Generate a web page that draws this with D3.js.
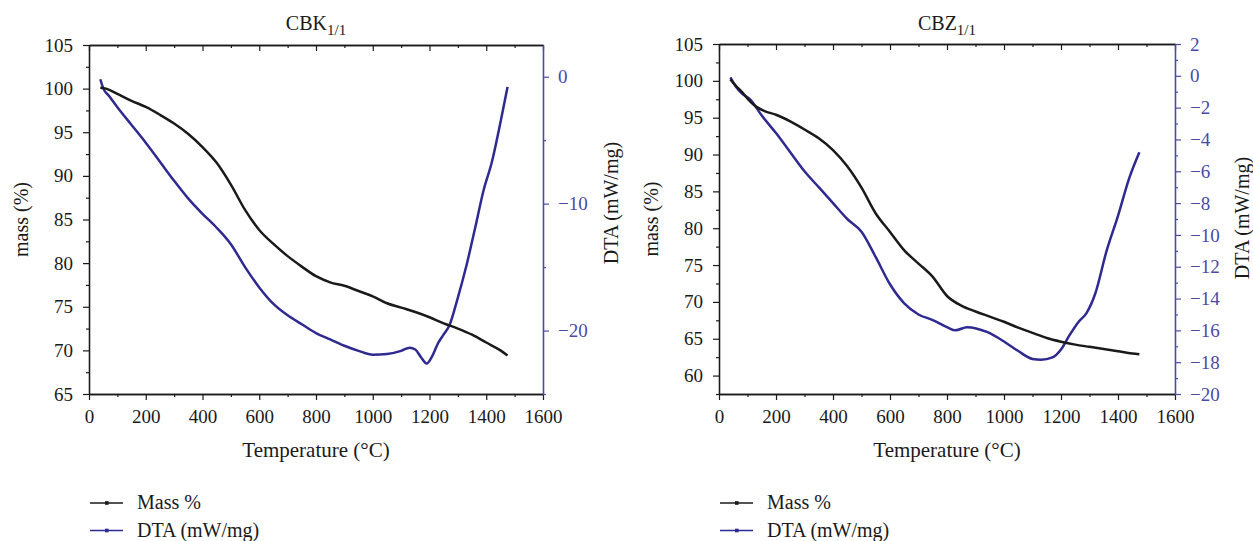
<!DOCTYPE html>
<html>
<head>
<meta charset="utf-8">
<script src="https://cdn.jsdelivr.net/npm/d3@7"></script>
<style>
body { margin: 0; background: #fff; }
text { font-family: "Liberation Serif", "DejaVu Serif", serif; }
</style>
</head>
<body>
<div id="plot"></div>
<script>
// ---- data ----
// CBK 1/1
var cbkMassT = [40, 60, 100, 150, 200, 250, 300, 350, 400, 450, 500, 550, 600, 650, 700, 750, 800, 850, 900, 950, 1000, 1050, 1100, 1150, 1200, 1250, 1300, 1350, 1400, 1450, 1475];
var cbkMass  = [100.1, 100.0, 99.4, 98.6, 97.9, 97.0, 96.0, 94.8, 93.3, 91.5, 89.0, 86.1, 83.8, 82.2, 80.8, 79.6, 78.5, 77.8, 77.4, 76.8, 76.2, 75.4, 74.9, 74.4, 73.8, 73.1, 72.5, 71.8, 70.9, 70.0, 69.4];
var cbkDtaT  = [40, 50, 70, 100, 150, 200, 250, 300, 350, 400, 450, 500, 550, 600, 650, 700, 750, 800, 850, 900, 950, 1000, 1050, 1100, 1130, 1150, 1170, 1190, 1210, 1230, 1250, 1270, 1300, 1330, 1360, 1390, 1420, 1450, 1475];
var cbkDta   = [-0.2, -0.9, -1.5, -2.4, -3.8, -5.2, -6.7, -8.2, -9.6, -10.8, -11.9, -13.2, -15.0, -16.6, -17.9, -18.8, -19.5, -20.2, -20.7, -21.2, -21.6, -21.9, -21.85, -21.6, -21.35, -21.5, -22.1, -22.6, -22.0, -21.0, -20.3, -19.6, -17.4, -14.9, -12.0, -9.0, -6.7, -3.6, -0.8];

// CBZ 1/1
var cbzMassT = [40, 60, 80, 100, 130, 160, 200, 250, 300, 350, 400, 450, 500, 550, 600, 650, 700, 750, 800, 850, 900, 950, 1000, 1050, 1100, 1150, 1200, 1250, 1300, 1350, 1400, 1450, 1475];
var cbzMass  = [100.2, 99.3, 98.5, 97.6, 96.5, 95.9, 95.4, 94.5, 93.4, 92.2, 90.6, 88.4, 85.5, 82.0, 79.5, 77.0, 75.2, 73.4, 70.8, 69.5, 68.7, 68.0, 67.3, 66.5, 65.8, 65.1, 64.6, 64.2, 63.9, 63.6, 63.3, 63.0, 62.9];
var cbzDtaT  = [40, 60, 80, 110, 150, 200, 250, 300, 350, 400, 450, 500, 550, 600, 650, 700, 750, 800, 830, 870, 940, 1000, 1050, 1100, 1130, 1170, 1200, 1230, 1260, 1290, 1320, 1360, 1400, 1440, 1475];
var cbzDta   = [-0.1, -0.7, -1.1, -1.5, -2.5, -3.6, -4.8, -6.0, -7.0, -8.0, -9.0, -9.8, -11.4, -13.1, -14.3, -15.0, -15.35, -15.8, -16.0, -15.8, -16.1, -16.7, -17.3, -17.8, -17.85, -17.7, -17.2, -16.3, -15.5, -14.9, -13.7, -11.0, -8.8, -6.4, -4.8];

// ticks
var xTicks = [0, 200, 400, 600, 800, 1000, 1200, 1400, 1600];
var xMinor = [100, 300, 500, 700, 900, 1100, 1300, 1500];
var cbkMassTicks = [65, 70, 75, 80, 85, 90, 95, 100, 105];
var cbkMassMinor = [67.5, 72.5, 77.5, 82.5, 87.5, 92.5, 97.5, 102.5];
var cbkDtaTicks = [0, -10, -20];
var cbkDtaMinor = [-5, -15, -25];
var cbzMassTicks = [60, 65, 70, 75, 80, 85, 90, 95, 100, 105];
var cbzMassMinor = [57.5, 62.5, 67.5, 72.5, 77.5, 82.5, 87.5, 92.5, 97.5, 102.5];
var cbzDtaTicks = [-20, -18, -16, -14, -12, -10, -8, -6, -4, -2, 0, 2];
var cbzDtaMinor = [-19, -17, -15, -13, -11, -9, -7, -5, -3, -1, 1];

var legendLabels = ["Mass %", "DTA (mW/mg)"];

var black = "#1a1a1a";
var blue = "#2f2a90";
var axisBlue = "#4a4aa6";
var fmt = d3.format('d');

var svg = d3.select('#plot').append('svg')
    .attr('width', 1253)
    .attr('height', 541);

function styleAxis(sel, color) {
    sel.select('.domain').attr('stroke', color).attr('stroke-width', 1.3);
    sel.selectAll('.tick line').attr('stroke', color).attr('stroke-width', 1.2);
    sel.selectAll('.tick text').attr('fill', color).style('font-size', '19px')
        .style('font-family', '"Liberation Serif", serif');
}

function drawPanel(p) {
    var x = d3.scaleLinear().domain([0, 1600]).range([p.left, p.right]);
    var yM = d3.scaleLinear().domain(p.massDomain).range([p.bottom, p.top]);
    var yD = d3.scaleLinear().domain(p.dtaDomain).range([p.bottom, p.top]);

    var g = svg.append('g');

    // bottom axis
    g.append('g').attr('transform', 'translate(0,' + p.bottom + ')')
        .call(d3.axisBottom(x).tickValues(xMinor).tickSize(3).tickSizeOuter(0).tickFormat(''))
        .call(styleAxis, black);
    g.append('g').attr('transform', 'translate(0,' + p.bottom + ')')
        .call(d3.axisBottom(x).tickValues(xTicks).tickSize(6).tickSizeOuter(0).tickPadding(10).tickFormat(fmt))
        .call(styleAxis, black);

    // top axis, ticks inward
    g.append('g').attr('transform', 'translate(0,' + p.top + ')')
        .call(d3.axisTop(x).tickValues(xMinor).tickSize(-3).tickSizeOuter(0).tickFormat(''))
        .call(styleAxis, black);
    g.append('g').attr('transform', 'translate(0,' + p.top + ')')
        .call(d3.axisTop(x).tickValues(xTicks).tickSize(-6).tickSizeOuter(0).tickFormat(''))
        .call(styleAxis, black);

    // left mass axis
    g.append('g').attr('transform', 'translate(' + p.left + ',0)')
        .call(d3.axisLeft(yM).tickValues(p.massMinor).tickSize(3).tickSizeOuter(0).tickFormat(''))
        .call(styleAxis, black);
    g.append('g').attr('transform', 'translate(' + p.left + ',0)')
        .call(d3.axisLeft(yM).tickValues(p.massTicks).tickSize(6).tickSizeOuter(0).tickPadding(10).tickFormat(fmt))
        .call(styleAxis, black);

    // right DTA axis
    g.append('g').attr('transform', 'translate(' + p.right + ',0)')
        .call(d3.axisRight(yD).tickValues(p.dtaMinor).tickSize(3).tickSizeOuter(0).tickFormat(''))
        .call(styleAxis, axisBlue);
    g.append('g').attr('transform', 'translate(' + p.right + ',0)')
        .call(d3.axisRight(yD).tickValues(p.dtaTicks).tickSize(6).tickSizeOuter(0).tickPadding(9).tickFormat(fmt))
        .call(styleAxis, axisBlue);

    // curves
    var massLine = d3.line()
        .x(function (d) { return x(d[0]); })
        .y(function (d) { return yM(d[1]); })
        .curve(d3.curveMonotoneX);
    var dtaLine = d3.line()
        .x(function (d) { return x(d[0]); })
        .y(function (d) { return yD(d[1]); })
        .curve(d3.curveMonotoneX);

    var dta = p.dtaT.map(function (t, i) { return [t, p.dta[i]]; });
    var mass = p.massT.map(function (t, i) { return [t, p.mass[i]]; });

    g.append('path').datum(dta)
        .attr('d', dtaLine)
        .attr('fill', 'none')
        .attr('stroke', blue)
        .attr('stroke-width', 2.5);
    g.append('path').datum(mass)
        .attr('d', massLine)
        .attr('fill', 'none')
        .attr('stroke', black)
        .attr('stroke-width', 2.5);

    // title
    var title = g.append('text')
        .attr('x', (p.left + p.right) / 2)
        .attr('y', 30)
        .attr('text-anchor', 'middle')
        .style('font-size', '20px')
        .attr('fill', black);
    title.append('tspan').text(p.title);
    title.append('tspan').attr('dy', 5).style('font-size', '15px').text(p.sub);

    // axis labels
    g.append('text')
        .attr('x', (p.left + p.right) / 2)
        .attr('y', 457)
        .attr('text-anchor', 'middle')
        .style('font-size', '21px')
        .attr('fill', black)
        .text('Temperature (\u00B0C)');

    g.append('text')
        .attr('transform', 'translate(' + p.massLabelX + ',' + (p.top + p.bottom) / 2 + ') rotate(-90)')
        .attr('text-anchor', 'middle')
        .style('font-size', '20px')
        .attr('fill', black)
        .text('mass (%)');

    g.append('text')
        .attr('transform', 'translate(' + p.dtaLabelX + ',' + p.dtaLabelY + ') rotate(-90)')
        .attr('text-anchor', 'middle')
        .style('font-size', '20px')
        .attr('fill', black)
        .text('DTA (mW/mg)');

    // legend
    var colors = [black, blue];
    var leg = g.selectAll('.legend')
        .data(legendLabels)
      .enter().append('g')
        .attr('class', 'legend')
        .attr('transform', function (d, i) { return 'translate(' + p.left + ',' + (503 + i * 27.5) + ')'; });
    leg.append('line')
        .attr('x1', 1).attr('x2', 34)
        .attr('stroke', function (d, i) { return colors[i]; })
        .attr('stroke-width', 1.3);
    leg.append('rect')
        .attr('x', 16).attr('y', -1.8).attr('width', 3.6).attr('height', 3.6)
        .attr('fill', function (d, i) { return colors[i]; });
    leg.append('text')
        .attr('x', 48)
        .attr('y', 6)
        .style('font-size', '20px')
        .attr('fill', black)
        .text(function (d) { return d; });
}

drawPanel({
    left: 89, right: 543, top: 45, bottom: 394,
    massDomain: [65, 105], dtaDomain: [-25, 2.5],
    massTicks: cbkMassTicks, massMinor: cbkMassMinor,
    dtaTicks: cbkDtaTicks, dtaMinor: cbkDtaMinor,
    massT: cbkMassT, mass: cbkMass, dtaT: cbkDtaT, dta: cbkDta,
    title: 'CBK', sub: '1/1',
    massLabelX: 28, dtaLabelX: 618, dtaLabelY: 203
});

drawPanel({
    left: 719, right: 1175, top: 44, bottom: 394,
    massDomain: [57.5, 105], dtaDomain: [-20, 2],
    massTicks: cbzMassTicks, massMinor: cbzMassMinor,
    dtaTicks: cbzDtaTicks, dtaMinor: cbzDtaMinor,
    massT: cbzMassT, mass: cbzMass, dtaT: cbzDtaT, dta: cbzDta,
    title: 'CBZ', sub: '1/1',
    massLabelX: 658, dtaLabelX: 1249, dtaLabelY: 218
});
</script>
</body>
</html>
